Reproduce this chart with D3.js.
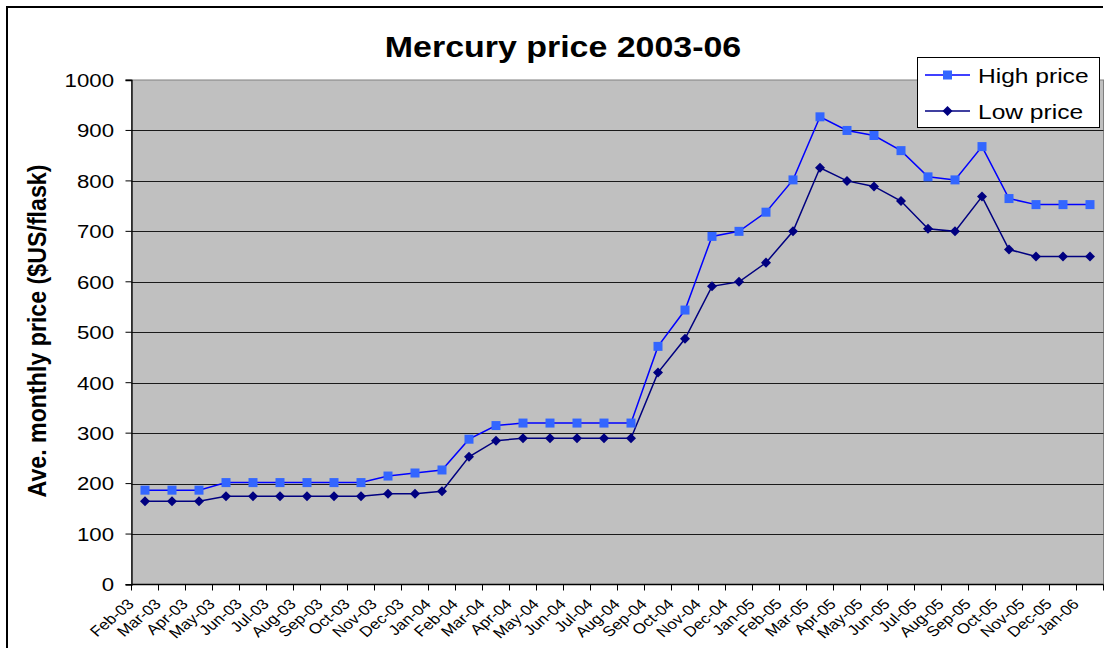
<!DOCTYPE html>
<html>
<head>
<meta charset="utf-8">
<script src="https://cdn.jsdelivr.net/npm/d3@7"></script>
<style>
  html, body { margin: 0; padding: 0; background: #fff; }
  svg { display: block; }
  text { font-family: "Liberation Sans", Arial, sans-serif; fill: #000; }
</style>
</head>
<body>
<svg id="chart" width="1107" height="648"></svg>
<script>
const months = ["Feb-03","Mar-03","Apr-03","May-03","Jun-03","Jul-03","Aug-03","Sep-03","Oct-03","Nov-03","Dec-03","Jan-04",
  "Feb-04","Mar-04","Apr-04","May-04","Jun-04","Jul-04","Aug-04","Sep-04","Oct-04","Nov-04","Dec-04","Jan-05",
  "Feb-05","Mar-05","Apr-05","May-05","Jun-05","Jul-05","Aug-05","Sep-05","Oct-05","Nov-05","Dec-05","Jan-06"];
const highPrice = [187,187,187,202,202,202,202,202,202,215,221,227,
  288,315,320,320,320,320,320,472,544,690,700,738,
  802,927,900,890,860,808,802,868,765,753,753,753];
const lowPrice = [165,165,165,175,175,175,175,175,175,180,180,185,
  253,285,290,290,290,290,290,420,487,591,600,638,
  700,826,800,789,760,705,700,769,664,650,650,650];
const yTicks = [0,100,200,300,400,500,600,700,800,900,1000];
const seriesNames = ["High price","Low price"];
const chartTitle = "Mercury price 2003-06";
const yTitle = "Ave. monthly price ($US/flask)";

const SX = 1.17; // horizontal stretch of text
const svg = d3.select("#chart");
const plot = {left: 131.5, right: 1103.5, top: 80, bottom: 584.5};

const x = d3.scaleBand().domain(months).range([plot.left, plot.right]).padding(0);
const y = d3.scaleLinear().domain([0, 1000]).range([plot.bottom, plot.top]);
const cx = d => x(d) + x.bandwidth() / 2;

// outer chart border (top and left visible)
svg.append("path").attr("d", `M7,648 V7 H1103`).attr("fill", "none").attr("stroke", "#000").attr("stroke-width", 2);

// plot area
svg.append("rect").attr("x", plot.left).attr("y", plot.top)
  .attr("width", plot.right - plot.left).attr("height", plot.bottom - plot.top)
  .attr("fill", "#C0C0C0").attr("stroke", "#808080").attr("stroke-width", 1);

// gridlines
svg.append("g").selectAll("line").data(yTicks.filter(t => t > 0 && t < 1000)).join("line")
  .attr("x1", plot.left).attr("x2", plot.right)
  .attr("y1", d => Math.round(y(d)) + 0.5).attr("y2", d => Math.round(y(d)) + 0.5)
  .attr("stroke", "#1a1a1a").attr("stroke-width", 1);

// y axis
const yAxis = d3.axisLeft(y).tickValues(yTicks).tickSize(6).tickFormat(d3.format("d"));
const gy = svg.append("g").attr("transform", `translate(${plot.left},0)`).call(yAxis);
gy.select(".domain").attr("stroke", "#000").attr("stroke-width", 1.3);
gy.selectAll(".tick line").attr("stroke", "#000");
gy.selectAll(".tick text").each(function(d) {
  const t = d3.select(this);
  const ty = y(d);
  t.attr("x", null).attr("dy", null).attr("y", null)
    .attr("transform", `translate(${114 - plot.left},${ty}) scale(${SX},1)`)
    .attr("dy", "0.36em").attr("text-anchor", "end")
    .style("font-size", "19px").style("font-family", "'Liberation Sans', Arial, sans-serif");
});
gy.selectAll(".tick").attr("transform", null);
gy.selectAll(".tick line").attr("y1", d => y(d)).attr("y2", d => y(d));

// x axis: ticks at category boundaries
const gx = svg.append("g");
gx.append("line").attr("x1", plot.left).attr("x2", plot.right)
  .attr("y1", plot.bottom).attr("y2", plot.bottom).attr("stroke", "#000").attr("stroke-width", 1.3);
const bounds = months.map(m => x(m)).concat([plot.right]);
gx.selectAll("line.tk").data(bounds).join("line").attr("class", "tk")
  .attr("x1", d => d).attr("x2", d => d)
  .attr("y1", plot.bottom).attr("y2", plot.bottom + 6).attr("stroke", "#000");
gx.selectAll("text").data(months).join("text")
  .attr("transform", d => `translate(${cx(d) - 10},605) scale(${SX},1) rotate(-45)`)
  .attr("text-anchor", "end").style("font-size", "14.5px").text(d => d);

// series
const line = d3.line().x((d, i) => cx(months[i])).y(d => y(d));
svg.append("path").datum(highPrice).attr("d", line)
  .attr("fill", "none").attr("stroke", "#0000FF").attr("stroke-width", 1.5);
svg.append("path").datum(lowPrice).attr("d", line)
  .attr("fill", "none").attr("stroke", "#000080").attr("stroke-width", 1.5);

const sq = 9;
svg.append("g").selectAll("rect").data(highPrice).join("rect")
  .attr("x", (d, i) => cx(months[i]) - sq / 2).attr("y", d => y(d) - sq / 2)
  .attr("width", sq).attr("height", sq).attr("fill", "#3366FF");
const diamond = d3.symbol().type(d3.symbolDiamond2).size(64);
svg.append("g").selectAll("path").data(lowPrice).join("path")
  .attr("transform", (d, i) => `translate(${cx(months[i])},${y(d)})`)
  .attr("d", diamond).attr("fill", "#000080");

// title
svg.append("text").attr("transform", `translate(563,57) scale(${SX},1)`)
  .attr("text-anchor", "middle").style("font-size", "29px").style("font-weight", "bold").text(chartTitle);

// y title
svg.append("text").attr("transform", `translate(46,331) scale(${SX},1) rotate(-90)`)
  .attr("text-anchor", "middle").attr("textLength", 333).attr("lengthAdjust", "spacingAndGlyphs")
  .style("font-size", "22px").style("font-weight", "bold").text(yTitle);

// legend
const lg = svg.append("g");
lg.append("rect").attr("x", 917.5).attr("y", 57.5).attr("width", 182).attr("height", 70)
  .attr("fill", "#fff").attr("stroke", "#000").attr("stroke-width", 1);
const legendY = [75, 111];
lg.selectAll("line").data(seriesNames).join("line")
  .attr("x1", 925).attr("x2", 970).attr("y1", (d, i) => legendY[i]).attr("y2", (d, i) => legendY[i])
  .attr("stroke", (d, i) => i === 0 ? "#0000FF" : "#000080").attr("stroke-width", 1.5);
lg.append("rect").attr("x", 947.5 - sq / 2).attr("y", legendY[0] - sq / 2).attr("width", sq).attr("height", sq).attr("fill", "#3366FF");
lg.append("path").attr("transform", `translate(947.5,${legendY[1]})`).attr("d", diamond).attr("fill", "#000080");
lg.selectAll("text").data(seriesNames).join("text")
  .attr("transform", (d, i) => `translate(978,${legendY[i] + 8}) scale(${SX},1)`)
  .style("font-size", "21px").text(d => d);
</script>
</body>
</html>
